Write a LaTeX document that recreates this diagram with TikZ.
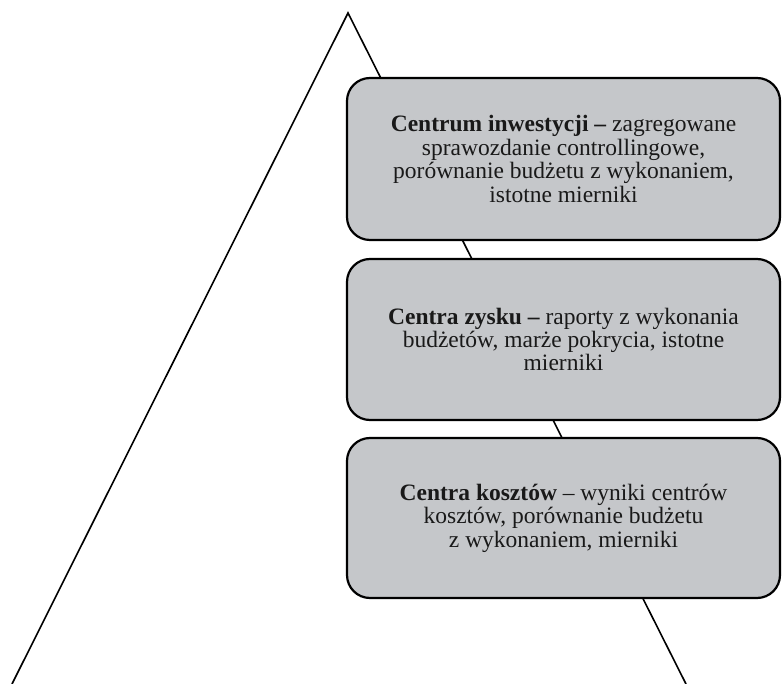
\documentclass[tikz,border=0pt]{standalone}
\usepackage{fontspec}
\setmainfont{Liberation Serif}
\begin{document}
\begin{tikzpicture}[x=1pt,y=-1pt,
  level/.style={draw=black, line width=2.2pt, fill=boxgray, rounded corners=23pt,
    minimum width=433pt, align=center, inner sep=0pt,
    font=\fontsize{23.5}{23.4}\selectfont, text=black!90},
  side/.style={draw=black, line width=1.6pt}]
\definecolor{boxgray}{RGB}{197,199,202}
\useasboundingbox (0,0) rectangle (782,684);
\coordinate (apex) at (348,13);
\coordinate (bl) at (12,684);
\coordinate (br) at (686,684);
\draw[side] (bl) -- (apex) -- (br);
\node[level, minimum height=162pt] (inv) at (563.5,159)
  {\textbf{Centrum inwestycji –} zagregowane\\sprawozdanie controllingowe,\\porównanie budżetu z wykonaniem,\\istotne mierniki};
\node[level, minimum height=161pt] (zysk) at (563.5,339.5)
  {\textbf{Centra zysku –} raporty z wykonania\\budżetów, marże pokrycia, istotne\\mierniki};
\node[level, minimum height=160pt] (koszt) at (563.5,518)
  {\textbf{Centra kosztów} – wyniki centrów\\kosztów, porównanie budżetu\\z wykonaniem, mierniki};
\end{tikzpicture}
\end{document}
